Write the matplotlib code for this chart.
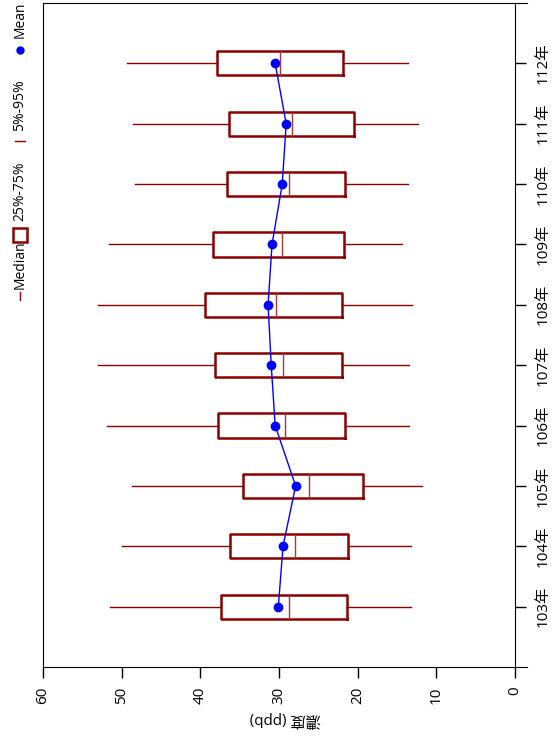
import matplotlib.pyplot as plt
from matplotlib.lines import Line2D
from matplotlib.patches import Rectangle

plt.rcParams['font.family'] = ['Open Sans', 'Noto Sans CJK TC', 'DejaVu Sans']

years = ['103年', '104年', '105年', '106年', '107年', '108年', '109年', '110年', '111年', '112年']
p05 = [13.2, 13.2, 11.8, 13.5, 13.5, 13.1, 14.4, 13.6, 12.3, 13.6]
q1 = [21.4, 21.2, 19.4, 21.6, 22.0, 22.0, 21.7, 21.6, 20.5, 21.9]
med = [28.7, 28.0, 26.2, 29.2, 29.5, 30.4, 29.6, 28.7, 28.3, 29.9]
q3 = [37.4, 36.2, 34.6, 37.8, 38.1, 39.4, 38.4, 36.6, 36.4, 37.9]
p95 = [51.5, 50.0, 48.7, 51.9, 53.0, 53.0, 51.6, 48.3, 48.6, 49.3]
means = [30.1, 29.5, 27.9, 30.5, 31.0, 31.4, 30.9, 29.6, 29.1, 30.5]

dark = '#8b0000'

fig = plt.figure(figsize=(5.56, 7.47), dpi=100)
ax = fig.add_axes([43 / 556, 80 / 747, 484 / 556, 664 / 747])

pos = list(range(1, len(years) + 1))
stats = []
for i in range(len(years)):
    stats.append(dict(whislo=p05[i], q1=q1[i], med=med[i], q3=q3[i], whishi=p95[i], fliers=[]))

ax.bxp(stats, positions=pos, orientation='horizontal', widths=0.4, showcaps=False,
       boxprops=dict(color=dark, linewidth=1.8),
       medianprops=dict(color='#a83838', linewidth=1.0),
       whiskerprops=dict(color=dark, linewidth=1.0))
ax.plot(means, pos, 'o-', color='blue', ms=6, lw=1)

ax.set_xlim(60, -1.5)
ax.set_ylim(0, 11)
ax.spines['right'].set_position(('data', 0))
ax.yaxis.tick_right()
ax.set_yticks(pos)
ax.set_yticklabels(years, rotation=90, va='center', fontsize=11)
ax.set_xticks([60, 50, 40, 30, 20, 10, 0])
ax.set_xticklabels(['60', '50', '40', '30', '20', '10', '0'], rotation=90, fontsize=11)
ax.tick_params(axis='both', length=8, width=1)
ax.tick_params(axis='x', pad=6)
ax.tick_params(axis='y', pad=7)
ax.set_xlabel('濃度 (ppb)', rotation=180, fontsize=11, labelpad=5)

# legend (rotated)
def fx(x):
    return x / 556


def fy(y):
    return 1 - y / 747


fig.add_artist(Line2D([fx(20), fx(20)], [fy(300), fy(292)], color=dark, lw=1, transform=fig.transFigure))
fig.text(fx(20), fy(265), 'Median', rotation=90, ha='center', va='center', fontsize=10)
fig.add_artist(Rectangle((fx(13), fy(242)), 14 / 556, 14 / 747, fill=False, edgecolor=dark, lw=1.8,
                         transform=fig.transFigure))
fig.text(fx(20), fy(191), '25%-75%', rotation=90, ha='center', va='center', fontsize=10)
fig.add_artist(Line2D([fx(15), fx(25)], [fy(141), fy(141)], color=dark, lw=1, transform=fig.transFigure))
fig.text(fx(20), fy(105), '5%-95%', rotation=90, ha='center', va='center', fontsize=10)
fig.add_artist(Line2D([fx(20)], [fy(50)], color='blue', marker='o', ms=5, transform=fig.transFigure))
fig.text(fx(20), fy(20), 'Mean', rotation=90, ha='center', va='center', fontsize=10)

fig.savefig('out.png', dpi=100)
